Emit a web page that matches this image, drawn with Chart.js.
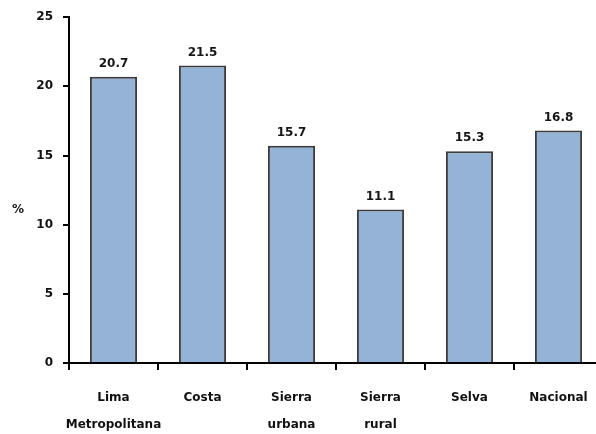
<!DOCTYPE html>
<html>
<head>
<meta charset="utf-8">
<script src="https://cdn.jsdelivr.net/npm/chart.js@4.4.1/dist/chart.umd.min.js"></script>
<style>
  html, body { margin: 0; padding: 0; background: #fff; overflow: hidden; }
  #wrap { width: 610px; height: 434px; }
</style>
</head>
<body>
<div id="wrap"><canvas id="barChart" width="610" height="434"></canvas></div>
<script>
var regiones = [["Lima", "Metropolitana"], ["Costa"], ["Sierra", "urbana"], ["Sierra", "rural"], ["Selva"], ["Nacional"]];
var porcentajes = [20.7, 21.5, 15.7, 11.1, 15.3, 16.8];
var yTicks = [0, 5, 10, 15, 20, 25];

var fontFam = "'DejaVu Sans', sans-serif";

// value over each bar and the "%" axis caption
var etiquetas = {
  id: 'etiquetas',
  afterDatasetsDraw: function(chart){
    var ctx = chart.ctx;
    var meta = chart.getDatasetMeta(0);
    ctx.save();
    ctx.fillStyle = '#151515';
    ctx.font = 'bold 12px ' + fontFam;
    ctx.textAlign = 'center';
    ctx.textBaseline = 'bottom';
    meta.data.forEach(function(bar, i){
      ctx.fillText(porcentajes[i].toFixed(1), bar.x, bar.y - 7);
    });
    ctx.textAlign = 'center';
    ctx.textBaseline = 'middle';
    ctx.fillText('%', 18, 210);
    ctx.restore();
  }
};

function init(){
  var ctx = document.getElementById('barChart').getContext('2d');
  var chart = new Chart(ctx, {
    type: 'bar',
    data: {
      labels: regiones,
      datasets: [{
        data: porcentajes,
        backgroundColor: '#95b3d7',
        borderColor: '#3c3c3c',
        borderWidth: 2,
        borderSkipped: 'start',
        categoryPercentage: 1,
        barPercentage: 0.53
      }]
    },
    options: {
      responsive: false,
      animation: false,
      layout: { padding: { top: 17, right: 7, left: 0, bottom: 0 } },
      plugins: { legend: { display: false }, tooltip: { enabled: false } },
      scales: {
        x: {
          grid: { display: true, drawOnChartArea: false, offset: true, color: '#000', lineWidth: 2, tickLength: 7 },
          border: { display: true, color: '#000', width: 2 },
          ticks: { color: '#111', font: { family: fontFam, size: 12, weight: 'bold', lineHeight: 2.25 }, padding: 14, maxRotation: 0, autoSkip: false },
          afterFit: function(scale){ scale.height = 71; }
        },
        y: {
          min: 0,
          max: 25,
          afterBuildTicks: function(scale){ scale.ticks = yTicks.map(function(v){ return { value: v }; }); },
          grid: { display: true, drawOnChartArea: false, color: '#000', lineWidth: 2, tickLength: 6 },
          border: { display: true, color: '#000', width: 2 },
          ticks: { color: '#111', font: { family: fontFam, size: 12, weight: 'bold' }, padding: 10 },
          afterFit: function(scale){ scale.width = 69; }
        }
      }
    },
    plugins: [etiquetas]
  });
}

init();
</script>
</body>
</html>
